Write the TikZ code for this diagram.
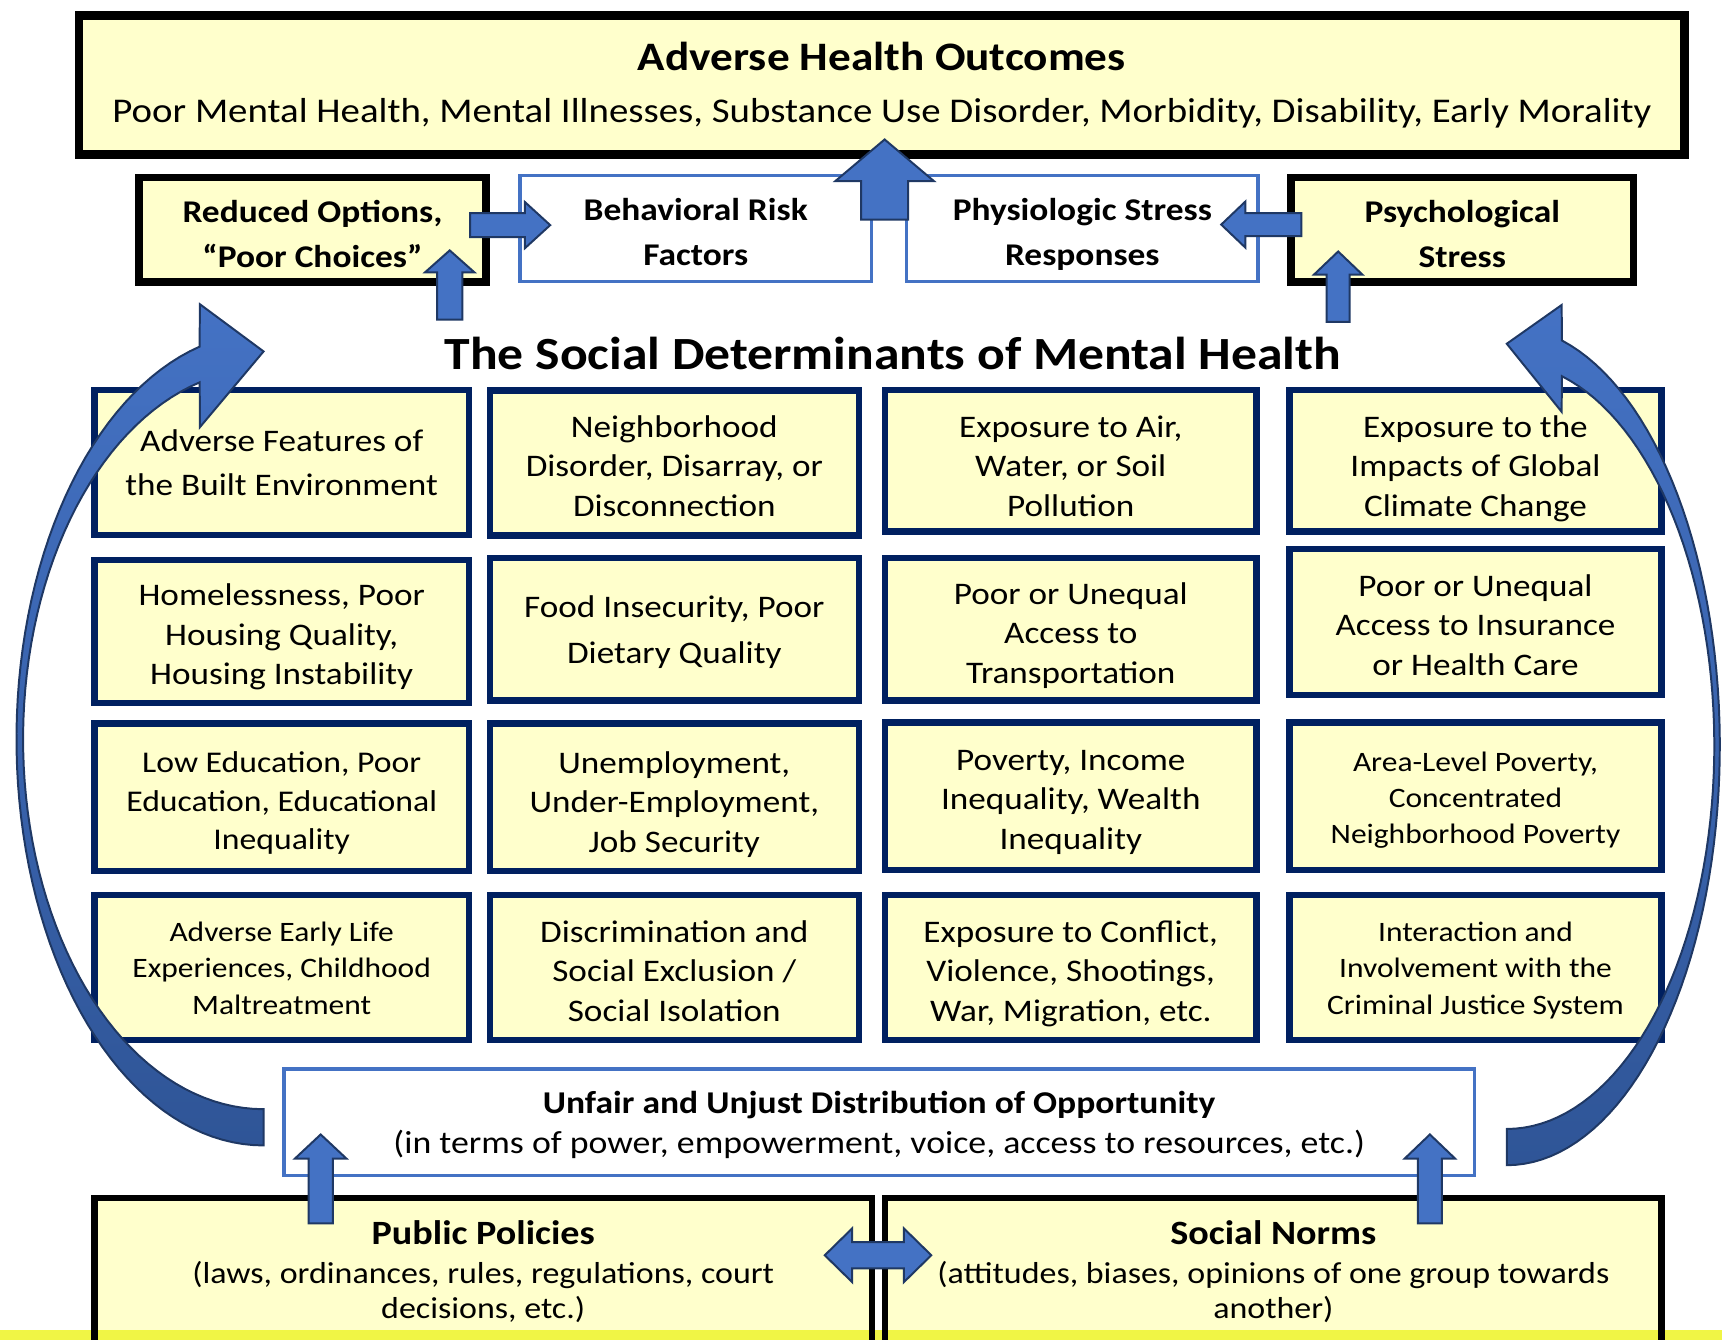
\documentclass[tikz,border=0pt]{standalone}
\usepackage{fontspec}
\setmainfont{Carlito}[FakeStretch=1.12]
\usetikzlibrary{calc}
\definecolor{pale}{HTML}{FFFFCC}
\definecolor{navy}{HTML}{002060}
\definecolor{accent}{HTML}{4472C4}
\definecolor{arrowline}{HTML}{1F3864}
\definecolor{arrowdark}{HTML}{2F5597}
\definecolor{stripyellow}{HTML}{F0F545}
\newcommand{\tS}[1]{\rule{0pt}{#1pt}}
\newcommand{\bS}{\rule[-5pt]{0pt}{5pt}}
\tikzset{
  cell/.style={draw=navy, line width=3pt, fill=pale, inner sep=0pt, align=center,
    minimum width=169pt, minimum height=66pt, font=\fontsize{14.3}{18}\selectfont},
  smallcell/.style={cell, font=\fontsize{12.8}{16.5}\selectfont},
  blackbox/.style={draw=black, line width=3.5pt, fill=pale, inner sep=0pt, align=center},
  bluebox/.style={draw=accent, line width=1.5pt, fill=white, inner sep=0pt, align=center},
  blk/.style={draw=arrowline, line width=0.9pt, fill=accent, line join=miter},
  boxhead/.style={font=\fontsize{14.4}{20.5}\bfseries},
}
% vertical block arrow: from, tip, shaft half width, head half width, head length (pt)
\newcommand{\blkup}[5]{\draw[blk] let \p1=(#1), \p2=(#2) in
  ({\x1-#3pt},{\y1}) -- ({\x1-#3pt},{\y2-#5pt}) -- ({\x1-#4pt},{\y2-#5pt}) -- (\x1,\y2)
  -- ({\x1+#4pt},{\y2-#5pt}) -- ({\x1+#3pt},{\y2-#5pt}) -- ({\x1+#3pt},{\y1}) -- cycle;}
% horizontal block arrow: from, tip, shaft half width, head half width, signed head length (pt)
\newcommand{\blkh}[5]{\draw[blk] let \p1=(#1), \p2=(#2), \n1={\x2-(#5)*1pt} in
  ({\x1},{\y1-#3pt}) -- ({\n1},{\y1-#3pt}) -- ({\n1},{\y1-#4pt}) -- (\x2,\y2)
  -- ({\n1},{\y1+#4pt}) -- ({\n1},{\y1+#3pt}) -- ({\x1},{\y1+#3pt}) -- cycle;}
\begin{document}
\begin{tikzpicture}[x=0.5pt,y=-0.5pt]
\useasboundingbox (0,0) rectangle (1568,1220);

% top outcome box
\node[blackbox, line width=4pt, minimum width=731pt, minimum height=63.5pt,
  font=\fontsize{15.8}{24}\selectfont] (aho) at (803,77.5)
  {{\fontsize{18.4}{24}\bfseries Adverse Health Outcomes}\\Poor Mental Health, Mental Illnesses, Substance Use Disorder, Morbidity, Disability, Early Morality};

% second row
\node[blackbox, boxhead, minimum width=158pt, minimum height=47.5pt] (ro) at (284.5,209) {\tS{19.5}Reduced Options,\\“Poor Choices”\bS};
\node[bluebox, boxhead, minimum width=160pt, minimum height=48.5pt] (br) at (633.5,208) {\tS{18}Behavioral Risk\\Factors\bS};
\node[bluebox, boxhead, minimum width=160pt, minimum height=48.5pt] (ps) at (985.5,208) {\tS{18.5}Physiologic Stress\\Responses\bS};
\node[blackbox, boxhead, minimum width=156pt, minimum height=47.5pt] (psy) at (1331.5,209) {\tS{19.5}Psychological\\Stress\bS};

% grid
\node[cell, minimum width=170.5pt, font=\fontsize{14.3}{20}\selectfont] (c11) at (256.5,421) {\tS{15}Adverse Features of\\the Built Environment\bS};
\node[cell, minimum width=168pt] (c12) at (614,421.5) {\tS{17.5}Neighborhood\\Disorder, Disarray, or\\Disconnection\bS};
\node[cell, minimum height=64.5pt] (c13) at (975,419.5) {\tS{19.5}Exposure to Air,\\Water, or Soil\\Pollution\bS};
\node[cell, minimum width=169.5pt, minimum height=64.5pt] (c14) at (1343.5,419.5) {\tS{19.5}Exposure to the\\Impacts of Global\\Climate Change\bS};

\node[cell, minimum width=170.5pt, minimum height=65pt] (c21) at (256.5,575) {\tS{17.5}Homelessness, Poor\\Housing Quality,\\Housing Instability\bS};
\node[cell, minimum width=168pt, minimum height=65pt, font=\fontsize{14.3}{21}\selectfont] (c22) at (614,573) {\tS{15}Food Insecurity, Poor\\Dietary Quality\bS};
\node[cell, minimum height=65pt] (c23) at (975,573) {\tS{18}Poor or Unequal\\Access to\\Transportation\bS};
\node[cell, minimum width=169.5pt, minimum height=66.5pt] (c24) at (1343.5,566.5) {\tS{17.5}Poor or Unequal\\Access to Insurance\\or Health Care\bS};

\node[cell, minimum width=170.5pt, minimum height=67pt, font=\fontsize{13.7}{17.5}\selectfont] (c31) at (256.5,726) {\tS{17.5}Low Education, Poor\\Education, Educational\\Inequality\bS};
\node[cell, minimum width=168pt, minimum height=67pt] (c32) at (614,726) {\tS{19}Unemployment,\\Under-Employment,\\Job Security\bS};
\node[cell, minimum height=67pt] (c33) at (975,725) {\tS{17.5}Poverty, Income\\Inequality, Wealth\\Inequality\bS};
\node[smallcell, minimum width=169.5pt, minimum height=67pt] (c34) at (1343.5,725) {\tS{15.5}Area-Level Poverty,\\Concentrated\\Neighborhood Poverty\bS};

\node[smallcell, minimum width=170.5pt] (c41) at (256.5,881) {\tS{14.5}Adverse Early Life\\Experiences, Childhood\\Maltreatment\bS};
\node[cell, minimum width=168pt] (c42) at (614,881) {\tS{18}Discrimination and\\Social Exclusion /\\Social Isolation\bS};
\node[cell] (c43) at (975,881) {\tS{18}Exposure to Conflict,\\Violence, Shootings,\\War, Migration, etc.\bS};
\node[smallcell, minimum width=169.5pt] (c44) at (1343.5,881) {\tS{14.5}Interaction and\\Involvement with the\\Criminal Justice System\bS};

% opportunity box
\node[bluebox, minimum width=542pt, minimum height=48.5pt, font=\fontsize{14.55}{18}\selectfont] (unfair) at (800.5,1022)
  {\tS{15}{\fontsize{14.45}{18}\bfseries Unfair and Unjust Distribution of Opportunity}\\(in terms of power, empowerment, voice, access to resources, etc.)\bS};

% bottom boxes
\node[blackbox, line width=3pt, minimum width=354pt, minimum height=67pt, font=\fontsize{13.8}{16}\selectfont] (pp) at (440,1158)
  {{\fontsize{15.5}{16}\bfseries Public Policies}\\[2pt](laws, ordinances, rules, regulations, court\\decisions, etc.)};
\node[blackbox, line width=3pt, minimum width=353.5pt, minimum height=67pt, font=\fontsize{13.8}{16}\selectfont] (sn) at (1159.5,1158)
  {{\fontsize{15.5}{16}\bfseries Social Norms}\\[2pt](attitudes, biases, opinions of one group towards\\another)};

% bottom strip
\fill[stripyellow] (0,1211) rectangle (1568,1220);
\foreach \b in {pp,sn}{
  \draw[line width=3pt] ([xshift=1.5pt]\b.south west) -- ([xshift=1.5pt,yshift=10pt]\b.south west);
  \draw[line width=3pt] ([xshift=-1.5pt]\b.south east) -- ([xshift=-1.5pt,yshift=10pt]\b.south east);
}

% title
\node[font=\fontsize{21}{25}\bfseries] (title) at (813,322) {The Social Determinants of Mental Health};

% straight block arrows
\coordinate (a1s) at (805.5,200);  \coordinate (a1e) at (805.5,127);
\coordinate (a2s) at (409.5,291);  \coordinate (a2e) at (409.5,228);
\coordinate (a3s) at (1218.5,293); \coordinate (a3e) at (1218.5,229);
\coordinate (a4s) at (428,205);    \coordinate (a4e) at (501,205);
\coordinate (a5s) at (1185,204.5); \coordinate (a5e) at (1112,204.5);
\coordinate (a6s) at (292,1114);   \coordinate (a6e) at (292,1033);
\coordinate (a7s) at (1302,1114);  \coordinate (a7e) at (1302,1033);
\coordinate (dl) at (751,1143);    \coordinate (dr) at (848,1143);
\blkup{a1s}{a1e}{10.75}{22.5}{19}
\blkup{a2s}{a2e}{5.75}{11.25}{10}
\blkup{a3s}{a3e}{5.25}{11}{10.5}
\blkh{a4s}{a4e}{5.5}{10.5}{11.5}
\blkh{a5s}{a5e}{5.25}{10.5}{-11}
\blkup{a6s}{a6e}{5.5}{11.75}{11}
\blkup{a7s}{a7e}{5.5}{11.5}{11}
\draw[blk] let \p1=(dl), \p2=(dr) in
  (\x1,\y1) -- ({\x1+12.5pt},{\y1+12.25pt}) -- ({\x1+12.5pt},{\y1+6pt}) -- ({\x2-12.5pt},{\y1+6pt})
  -- ({\x2-12.5pt},{\y1+12.25pt}) -- (\x2,\y2) -- ({\x2-12.5pt},{\y1-12.25pt}) -- ({\x2-12.5pt},{\y1-6pt})
  -- ({\x1+12.5pt},{\y1-6pt}) -- ({\x1+12.5pt},{\y1-12.25pt}) -- cycle;

% curved arrows
\draw[blk, top color=accent, bottom color=arrowdark]
  (240,1043) -- plot[domain=90:255, samples=70] ({240+225*cos(\x)},{673+370*sin(\x)})
  -- (182,277) -- (240,320) -- (182,389)
  -- plot[domain=254.6:90, samples=70] ({240+219*cos(\x)},{673+337*sin(\x)}) -- cycle;
\draw[blk, top color=accent, bottom color=arrowdark]
  (1372,1061) -- plot[domain=90:-75, samples=70] ({1372+194*cos(\x)},{679+382*sin(\x)})
  -- (1422,277.7) -- (1372,313) -- (1422,375)
  -- plot[domain=-74.6:90, samples=70] ({1372+189*cos(\x)},{679+349*sin(\x)}) -- cycle;
\end{tikzpicture}
\end{document}
